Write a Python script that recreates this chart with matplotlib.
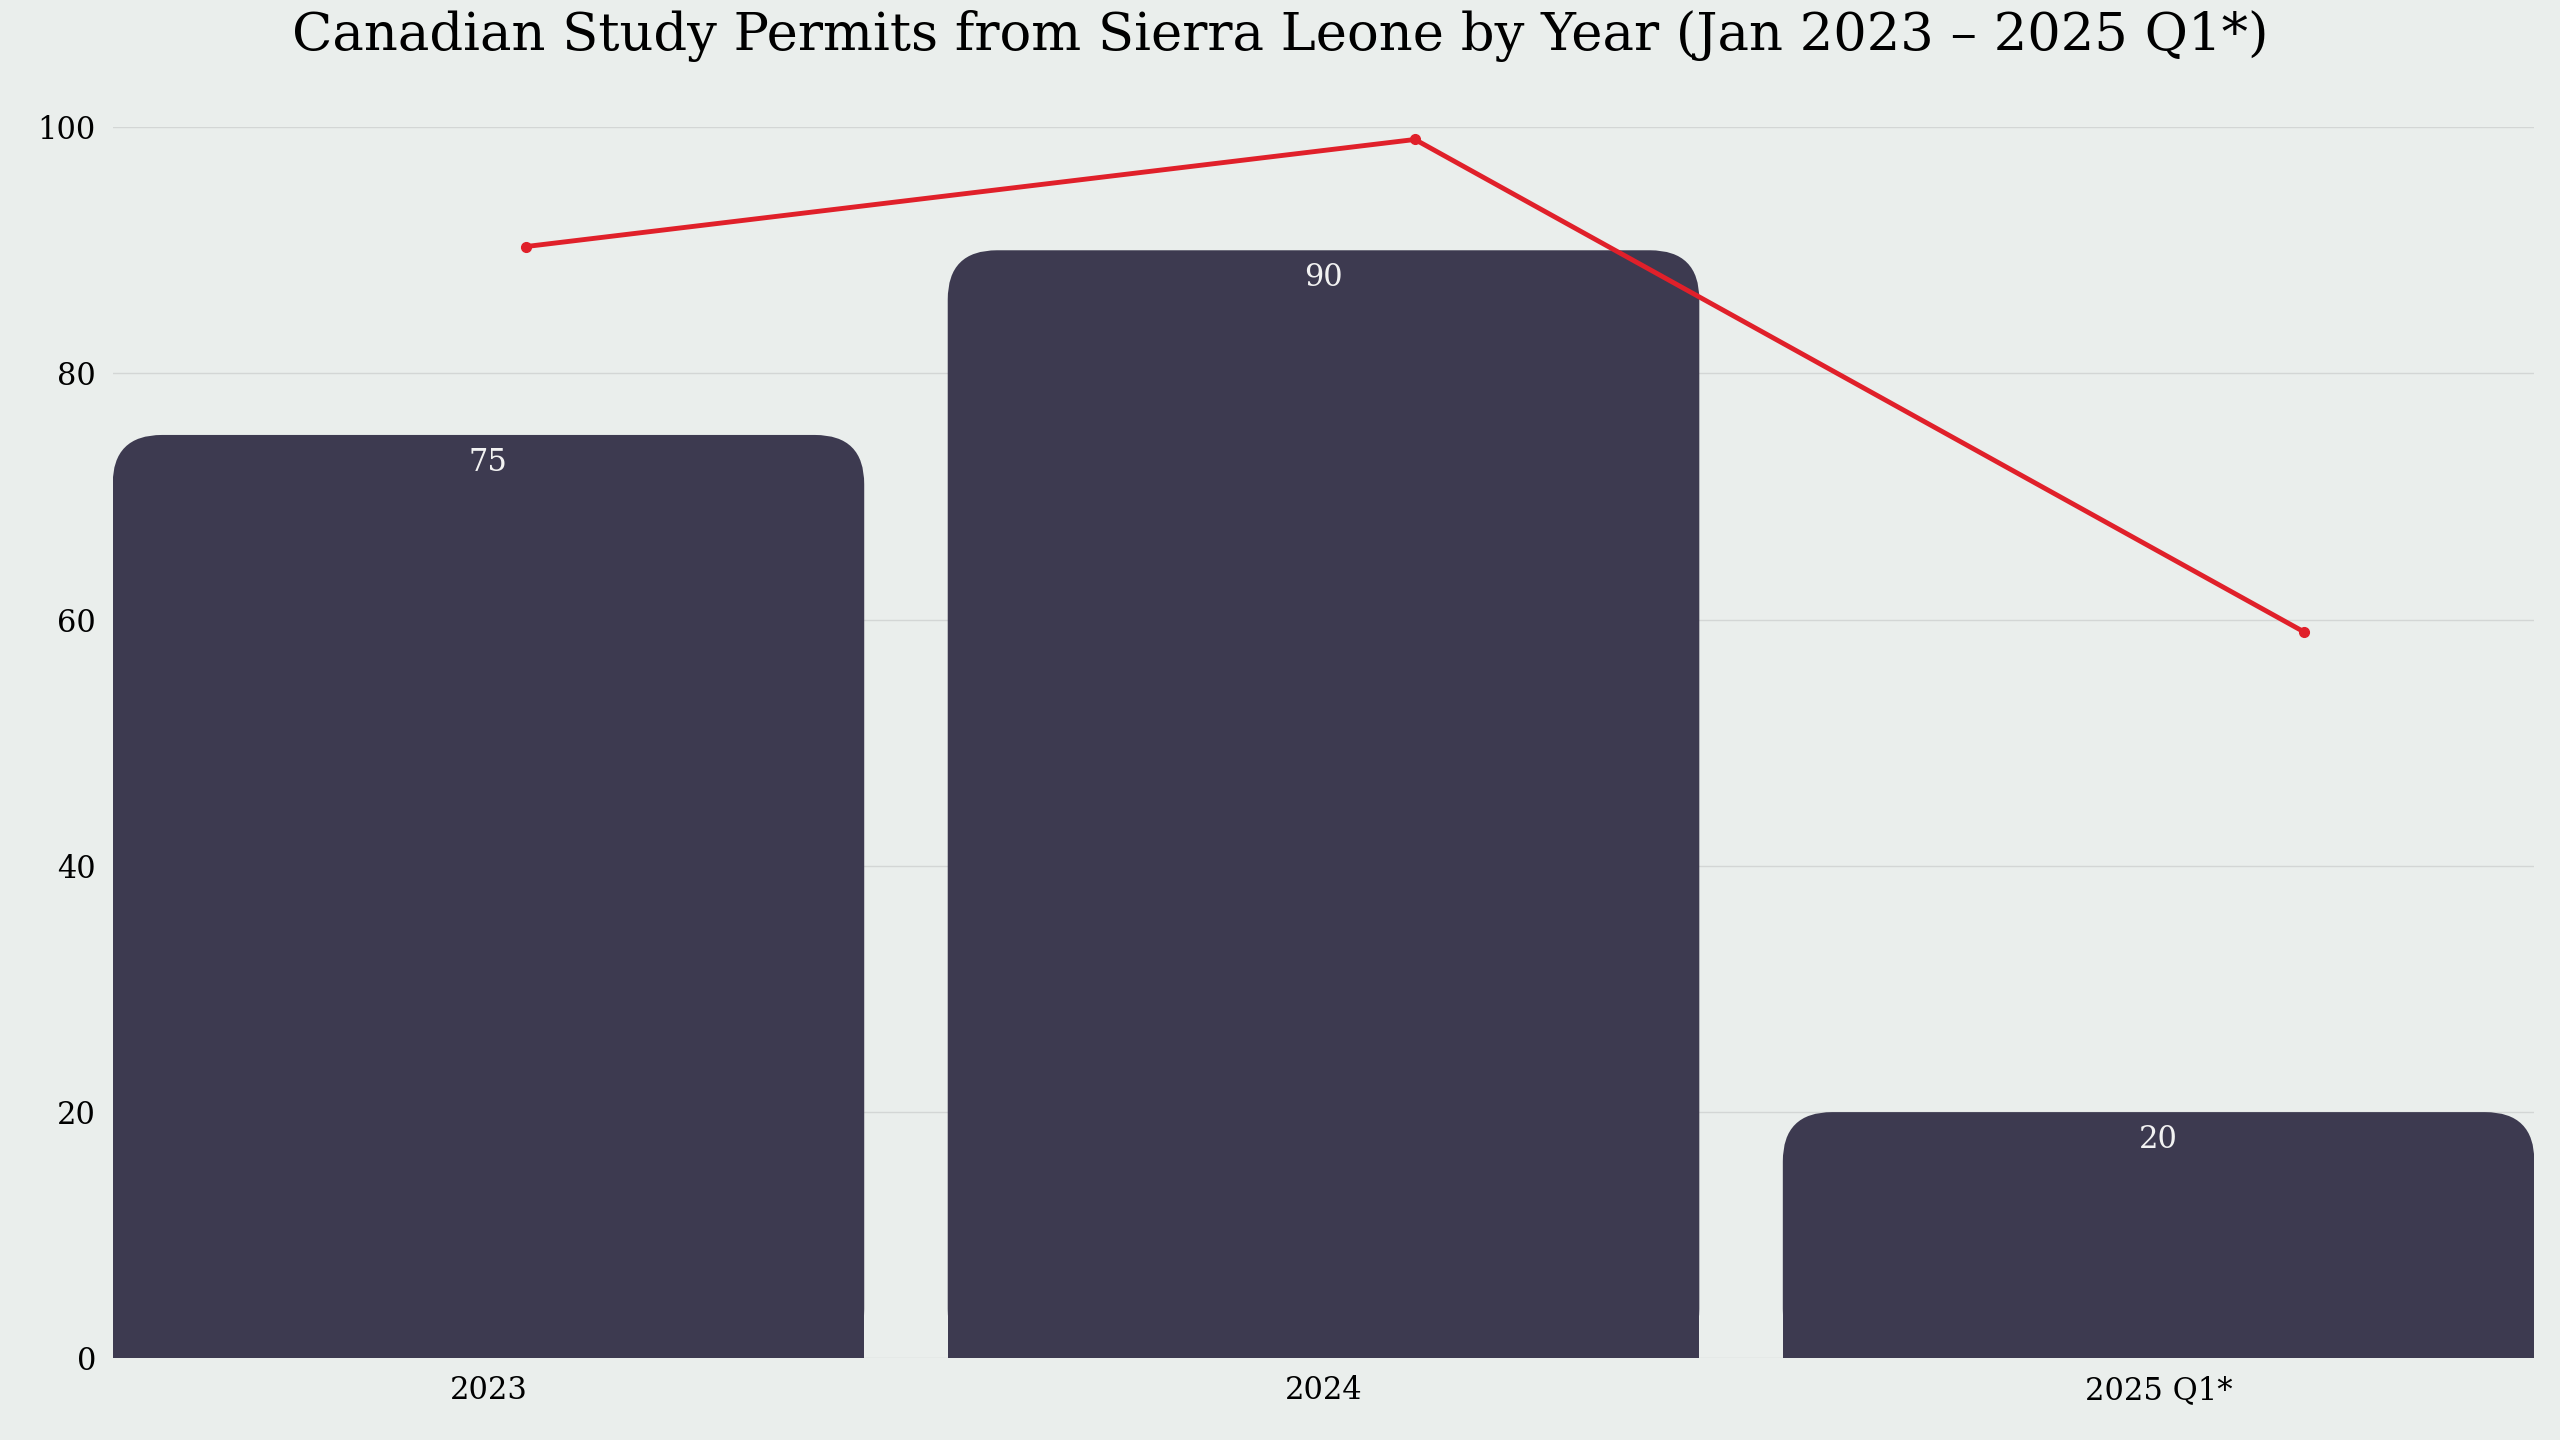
import matplotlib
matplotlib.use("Agg")
import matplotlib.pyplot as plt
from matplotlib.patches import FancyBboxPatch, Rectangle

categories = ["2023", "2024", "2025 Q1*"]
bar_values = [75, 90, 20]
line_values = [90.3, 99, 59]
yticks = [0, 20, 40, 60, 80, 100]

bg = "#EAEEEC"
bar_c = "#3D3A50"
line_c = "#E0202A"
font = "DejaVu Serif"

fig = plt.figure(figsize=(25.6, 14.4), dpi=100, facecolor=bg)
ax = fig.add_axes([0.044, 0.0567, 0.946, 0.855], facecolor=bg)
ax.set_xlim(-0.45, 2.45)
ax.set_ylim(0, 100)
w = 0.9
r = 0.059
for i, v in enumerate(bar_values):
    x0 = i - w / 2
    ax.add_patch(FancyBboxPatch((x0, 0), w, v, boxstyle=f"round,pad=0,rounding_size={r}",
                                mutation_aspect=4.0 / r, fc=bar_c, ec="none", zorder=2))
    ax.add_patch(Rectangle((x0, 0), w, v * 0.5, fc=bar_c, ec="none", zorder=2))
    ax.text(i, v - 2.2, str(v), ha="center", va="center", color="#F2F2F2",
            fontsize=22, family=font, zorder=3)
ax.set_xticks(range(len(categories)))
ax.set_xticklabels(categories)
ax.set_yticks(yticks)
ax.grid(axis="y", color="#D3D6D5", lw=1, zorder=0)
ax.set_axisbelow(True)
for s in ax.spines.values():
    s.set_visible(False)
ax.tick_params(length=0, labelsize=22, pad=12)
for t in ax.get_xticklabels() + ax.get_yticklabels():
    t.set_family(font)

ax2 = fig.add_axes(ax.get_position(), facecolor="none")
ax2.set_xlim(-0.4646, 2.259)
ax2.set_ylim(0, 100)
ax2.plot(range(len(line_values)), line_values, color=line_c, lw=3.5, marker="o", ms=7, zorder=4)
ax2.axis("off")

fig.suptitle("Canadian Study Permits from Sierra Leone by Year (Jan 2023 – 2025 Q1*)",
             y=0.975, fontsize=38, family=font, va="center")
fig.savefig("out.png", dpi=100, facecolor=bg)
